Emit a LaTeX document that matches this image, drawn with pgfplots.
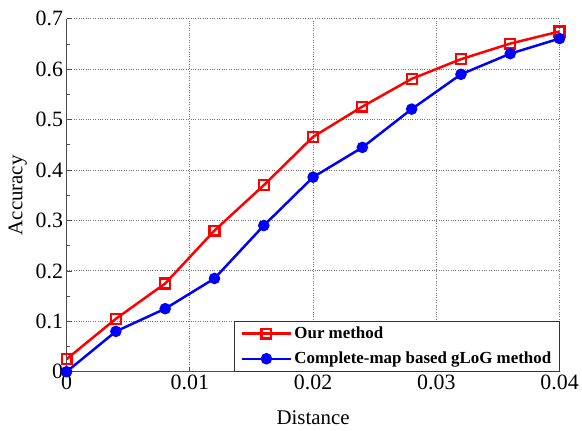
\documentclass[border=0pt]{standalone}
\usepackage{fontspec}
\setmainfont{Liberation Serif}
\usepackage{pgfplots}
\pgfplotsset{compat=1.18}

\begin{document}
\begin{tikzpicture}
\begin{axis}[
    name=ax,
    scale only axis,
    width=496pt,
    height=355pt,
    xmin=0, xmax=0.04,
    ymin=0, ymax=0.7,
    scaled ticks=false,
    xtick={0,0.01,0.02,0.03,0.04},
    ytick={0,0.1,0.2,0.3,0.4,0.5,0.6,0.7},
    xticklabels={0,0.01,0.02,0.03,0.04},
    yticklabels={0,0.1,0.2,0.3,0.4,0.5,0.6,0.7},
    minor y tick num=1,
    axis x line*=bottom,
    axis y line*=left,
    axis line style={black!70, line width=1pt},
    tick align=inside,
    major tick length=5pt,
    minor tick length=3pt,
    tick style={black!70, line width=0.8pt},
    grid=major,
    grid style={black!55, dotted, line width=1pt},
    tick label style={font=\fontsize{22}{25}\selectfont},
    xlabel={Distance},
    ylabel={Accuracy},
    label style={font=\fontsize{21}{24}\selectfont},
    xlabel style={at={(axis description cs:0.5,-0.13)}, anchor=center},
    ylabel style={at={(axis description cs:-0.099,0.5)}, anchor=center},
    legend style={font=\fontsize{17}{20}\selectfont\bfseries, at={(axis description cs:1,0)}, anchor=south east,
        draw=black!80, line width=0.8pt, row sep=8pt, inner xsep=6pt, inner ysep=4pt,
        cells={anchor=west}},
    legend image code/.code={
        \draw[mark repeat=2, mark phase=2, #1] plot coordinates {(0pt,0pt) (25pt,0pt) (50pt,0pt)};
    },
    legend image post style={line width=2.5pt},
]
\addplot[red, line width=2.5pt, mark=square, mark size=5pt, mark options={line width=2.2pt, fill=white}]
  coordinates {(0,0.025) (0.004,0.105) (0.008,0.175) (0.012,0.28) (0.016,0.37) (0.02,0.466) (0.024,0.526) (0.028,0.581) (0.032,0.62) (0.036,0.651) (0.04,0.675)};
\addplot[blue, line width=2.5pt, mark=*, mark size=4.5pt]
  coordinates {(0,0) (0.004,0.08) (0.008,0.125) (0.012,0.185) (0.016,0.29) (0.02,0.386) (0.024,0.445) (0.028,0.521) (0.032,0.59) (0.036,0.631) (0.04,0.661)};
\legend{Our method, Complete-map based gLoG method}
\end{axis}
\path ([xshift=-67pt,yshift=-59pt]ax.south west) rectangle ([xshift=19pt,yshift=19pt]ax.north east);
\end{tikzpicture}
\end{document}
